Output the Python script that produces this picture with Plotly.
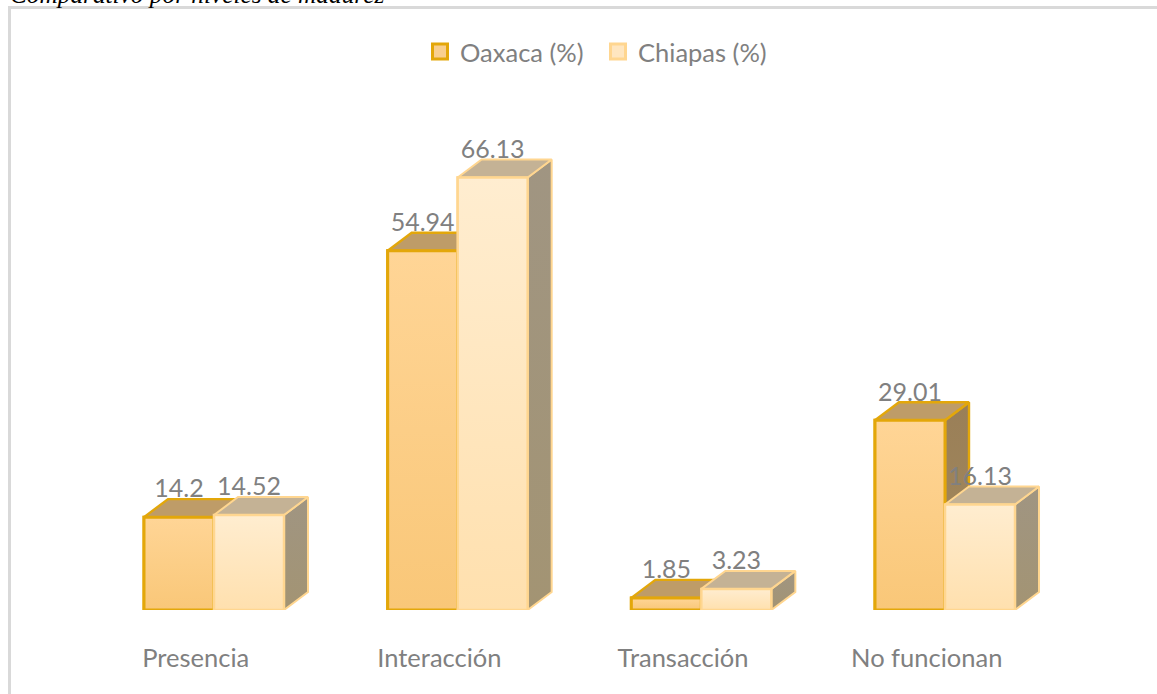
import plotly.graph_objects as go

categories = ["Presencia", "Interacción", "Transacción", "No funcionan"]
oaxaca = [14.2, 54.94, 1.85, 29.01]
chiapas = [14.52, 66.13, 3.23, 16.13]
series_names = ["Oaxaca (%)", "Chiapas (%)"]

W, H = 1157, 694
FLOOR_PX = 610
PX_PER_VALUE = 6.54
PX_PER_CAT = 243.67
FIRST_CENTER_PX = 214
BAR_PX = 70
DEPTH_X_PX, DEPTH_Y_PX = 24, 18
LABEL_RISE_PX = 26

bw = BAR_PX / PX_PER_CAT
dx = DEPTH_X_PX / PX_PER_CAT
dy = DEPTH_Y_PX / PX_PER_VALUE
rise = LABEL_RISE_PX / PX_PER_VALUE
x_range = [-FIRST_CENTER_PX / PX_PER_CAT, (W - FIRST_CENTER_PX) / PX_PER_CAT]
y_range = [0, FLOOR_PX / PX_PER_VALUE]

styles = [
    dict(name=series_names[0], values=oaxaca, off=-bw, line="#E3A70A", lw=3,
         front=["#FFD596", "#F9C778"], top="#BE9C68", side=["#9A7F58", "#A38A5C"], swatch="#F9CF8E"),
    dict(name=series_names[1], values=chiapas, off=0, line="#FFD690", lw=2.5,
         front=["#FFEDD0", "#FFE0AE"], top="#C4B295", side=["#A09582", "#A39473"], swatch="#FFE6C0"),
]

def poly(xs, ys, fill, line, lw):
    kw = dict(x=xs + xs[:1], y=ys + ys[:1], mode="lines", fill="toself",
              line=dict(color=line, width=lw), showlegend=False, hoverinfo="skip")
    if isinstance(fill, list):
        kw["fillgradient"] = dict(type="vertical", colorscale=[[0, fill[1]], [1, fill[0]]])
    else:
        kw["fillcolor"] = fill
    return go.Scatter(**kw)

fig = go.Figure()

for s in styles:
    fig.add_trace(go.Bar(x=list(range(4)), y=s["values"], width=bw, offset=s["off"],
                         marker=dict(color=s["front"][1], line=dict(color=s["line"], width=s["lw"])),
                         name=s["name"], showlegend=False))

for i in range(4):
    for s in styles:
        v = s["values"][i]
        x0 = i + s["off"]
        x1 = x0 + bw
        lw = s["lw"]
        fig.add_trace(poly([x1, x1 + dx, x1 + dx, x1], [0, dy, v + dy, v], s["side"], s["line"], lw * 0.8))
        fig.add_trace(poly([x0, x0 + dx, x1 + dx, x1], [v, v + dy, v + dy, v], s["top"], s["line"], lw * 0.8))
        fig.add_trace(poly([x0, x1, x1, x0], [0, 0, v, v], s["front"], s["line"], lw))

for s in styles:
    fig.add_trace(go.Scatter(x=[i + s["off"] + bw / 2 for i in range(4)],
                             y=[v + rise for v in s["values"]],
                             text=[str(v) for v in s["values"]],
                             mode="text", textposition="middle center",
                             textfont=dict(family="Lato", size=25, color="#808080"),
                             showlegend=False, hoverinfo="skip"))

for s in styles:
    fig.add_trace(go.Scatter(x=[None], y=[None], mode="markers", name=s["name"],
                             marker=dict(symbol="square", size=15, color=s["swatch"],
                                         line=dict(color=s["line"], width=3))))

fig.add_shape(type="rect", xref="paper", yref="paper", x0=9.5 / W, x1=1.02, y0=-0.02, y1=1 - 7.5 / H,
              line=dict(color="#D9D9D9", width=3), layer="below")

fig.add_annotation(text="<i>Comparativo por niveles de madurez</i>", xref="paper", yref="paper",
                   x=8 / W, y=1, xanchor="left", yanchor="bottom", yshift=-10, showarrow=False,
                   font=dict(family="Liberation Serif", size=25.3, color="#000000"))

fig.update_layout(
    width=W, height=H, margin=dict(l=0, r=0, t=0, b=0, pad=0),
    paper_bgcolor="white", plot_bgcolor="rgba(0,0,0,0)",
    barmode="overlay",
    xaxis=dict(range=x_range, showgrid=False, zeroline=False, showline=False,
               tickmode="array", tickvals=[i - 0.075 for i in range(4)], ticktext=categories,
               ticks="", ticklabelstandoff=30,
               tickfont=dict(family="Lato", size=25.5, color="#808080")),
    yaxis=dict(range=y_range, domain=[(H - FLOOR_PX) / H, 1], visible=False),
    legend=dict(orientation="h", x=420 / W, xanchor="left", y=1 - 52 / H, yanchor="middle",
                font=dict(family="Lato", size=25.5, color="#808080"), bgcolor="rgba(0,0,0,0)",
                itemsizing="trace", entrywidth=133, entrywidthmode="pixels"),
    showlegend=True,
)

fig.write_html("out.html", post_script="document.body.style.margin='0';",
               config=dict(displayModeBar=False))
